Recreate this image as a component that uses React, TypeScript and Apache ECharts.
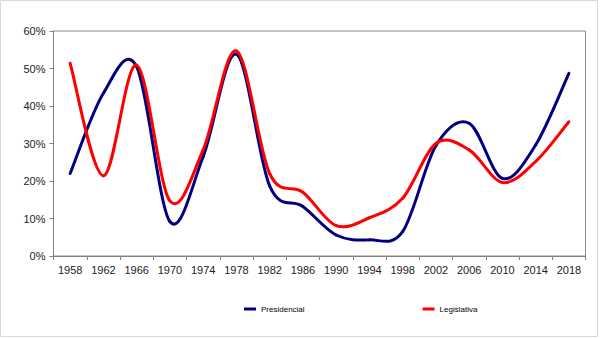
import React, { useEffect, useRef } from "react";
import * as echarts from "echarts";

const years = ["1958", "1962", "1966", "1970", "1974", "1978", "1982", "1986", "1990", "1994", "1998", "2002", "2006", "2010", "2014", "2018"];
const presidencial = [0.22, 0.434, 0.505, 0.092, 0.265, 0.538, 0.187, 0.132, 0.056, 0.043, 0.065, 0.294, 0.354, 0.207, 0.296, 0.487];
const legislativa = [0.514, 0.214, 0.509, 0.147, 0.283, 0.547, 0.22, 0.17, 0.081, 0.102, 0.154, 0.3, 0.283, 0.196, 0.252, 0.358];
const seriesNames = ["Presidencial", "Legislativa"];
const seriesColors = ["#000080", "#ff0000"];

// Excel-like smoothed line: Catmull-Rom segments drawn as Bezier curves,
// with every point placed through the chart's own axes (api.coord).
function smoothRenderer(values: number[], color: string) {
  return (params: any, api: any) => {
    const i = params.dataIndex;
    const n = values.length;
    if (i >= n - 1) return null;
    const c = (k: number) => {
      const kk = Math.max(0, Math.min(n - 1, k));
      return api.coord([kk, values[kk]]);
    };
    const p0 = c(i - 1);
    const p1 = c(i);
    const p2 = c(i + 1);
    const p3 = c(i + 2);
    return {
      type: "bezierCurve",
      shape: {
        x1: p1[0],
        y1: p1[1],
        x2: p2[0],
        y2: p2[1],
        cpx1: p1[0] + (p2[0] - p0[0]) / 6,
        cpy1: p1[1] + (p2[1] - p0[1]) / 6,
        cpx2: p2[0] - (p3[0] - p1[0]) / 6,
        cpy2: p2[1] - (p3[1] - p1[1]) / 6,
      },
      style: { stroke: color, lineWidth: 3, fill: "none", lineCap: "round" },
    };
  };
}

export default function App() {
  const ref = useRef<HTMLDivElement>(null);
  useEffect(() => {
    if (!ref.current) return;
    const chart = echarts.init(ref.current, null, { renderer: "svg" });
    const seriesData = [presidencial, legislativa];
    chart.setOption({
      animation: false,
      backgroundColor: "#ffffff",
      textStyle: { fontFamily: "Liberation Sans, Arial, sans-serif" },
      graphic: [
        {
          type: "rect",
          shape: { x: 0.5, y: 0.5, width: 597, height: 336 },
          style: { fill: "none", stroke: "#d9d9d9", lineWidth: 1 },
          silent: true,
        },
      ],
      grid: {
        left: 53.5,
        right: 14.5,
        top: 31,
        bottom: 82,
        show: true,
        borderColor: "#8c8c8c",
        borderWidth: 1,
        containLabel: false,
      },
      legend: {
        data: seriesNames.map((n, k) => ({ name: n, icon: "rect", itemStyle: { color: seriesColors[k] } })),
        left: 239,
        top: 300,
        itemWidth: 12,
        itemHeight: 3,
        itemGap: 118,
        textStyle: { fontSize: 8, color: "#000", fontFamily: "Liberation Sans, Arial, sans-serif" },
      },
      xAxis: {
        type: "category",
        data: years,
        boundaryGap: true,
        axisLine: { lineStyle: { color: "#808080", width: 1 } },
        axisTick: { show: true, length: 4, lineStyle: { color: "#808080" } },
        axisLabel: { fontSize: 11, color: "#222", margin: 8, interval: 0 },
        splitLine: { show: false },
      },
      yAxis: {
        type: "value",
        min: 0,
        max: 0.6,
        interval: 0.1,
        axisLine: { show: true, lineStyle: { color: "#808080", width: 1 } },
        axisTick: { show: true, length: 4, lineStyle: { color: "#808080" } },
        axisLabel: {
          fontSize: 11,
          color: "#222",
          margin: 8,
          formatter: (v: number) => Math.round(v * 100) + "%",
        },
        splitLine: { show: false },
      },
      series: seriesNames.map((name, k) => ({
        name,
        type: "custom",
        data: seriesData[k].map((v, i) => [i, v]),
        encode: { x: 0, y: 1 },
        itemStyle: { color: seriesColors[k] },
        renderItem: smoothRenderer(seriesData[k], seriesColors[k]),
      })),
    });
    return () => chart.dispose();
  }, []);
  return (
    <div
      ref={ref}
      style={{ position: "absolute", left: 0, top: 0, width: 600, height: 338 }}
    />
  );
}
